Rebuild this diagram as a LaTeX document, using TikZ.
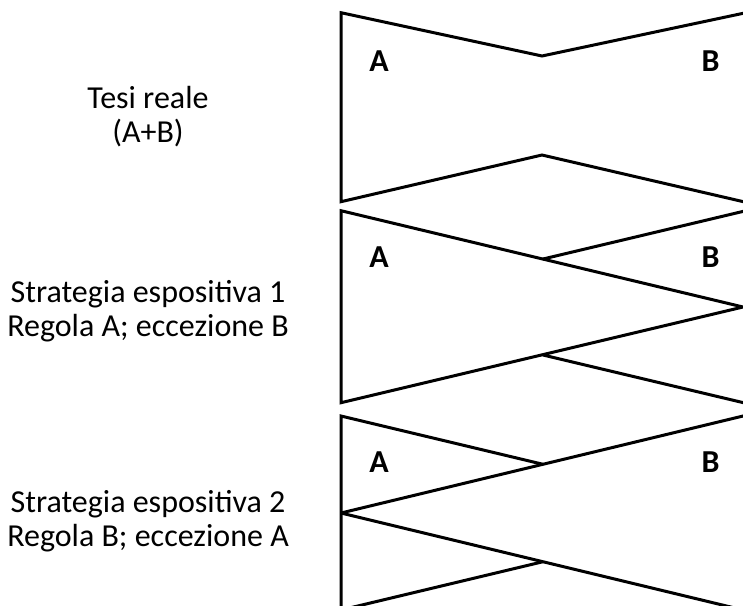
\documentclass[tikz,border=0pt]{standalone}
\usepackage{fontspec}
\setmainfont{Carlito}
\begin{document}
\begin{tikzpicture}[x=1pt,y=-1pt,
  shape line/.style={line width=3pt,line join=miter},
  leftlabel/.style={align=center,font=\fontsize{32}{33.5}\selectfont,inner sep=0pt},
  letter/.style={font=\bfseries\fontsize{32}{34}\selectfont,inner sep=0pt}]
\useasboundingbox (0,0) rectangle (743,605);
\clip (0,0) rectangle (743,605);
% panel 1
\draw[shape line] (746,12.7) -- (542,56) -- (341,12.7) -- (341,201.7) -- (542,155) -- (746,202.3);
% panel 2
\draw[shape line] (341,210.7) -- (743,307) -- (341,402.7) -- cycle;
\draw[shape line] (746,210.7) -- (543,259);
\draw[shape line] (543,355) -- (746,403.3);
% panel 3
\draw[shape line] (543,464.3) -- (341,416) -- (341,620);
\draw[shape line,line join=bevel] (746,415.3) -- (341,513) -- (746,610.7);
\draw[shape line] (341,610) -- (543,561.7);
% letters
\node[letter,anchor=base] (a1) at (379,71) {A};
\node[letter,anchor=base] (b1) at (710.5,71) {B};
\node[letter,anchor=base] (a2) at (379,267) {A};
\node[letter,anchor=base] (b2) at (710.5,267) {B};
\node[letter,anchor=base] (a3) at (379,472) {A};
\node[letter,anchor=base] (b3) at (710.5,472) {B};
% left labels
\node[leftlabel,anchor=base] (l1) at (148,142) {Tesi reale\\(A+B)};
\node[leftlabel,anchor=base] (l2) at (148,336) {Strategia espositiva 1\\Regola A; eccezione B};
\node[leftlabel,anchor=base] (l3) at (148,546) {Strategia espositiva 2\\Regola B; eccezione A};
\end{tikzpicture}
\end{document}
